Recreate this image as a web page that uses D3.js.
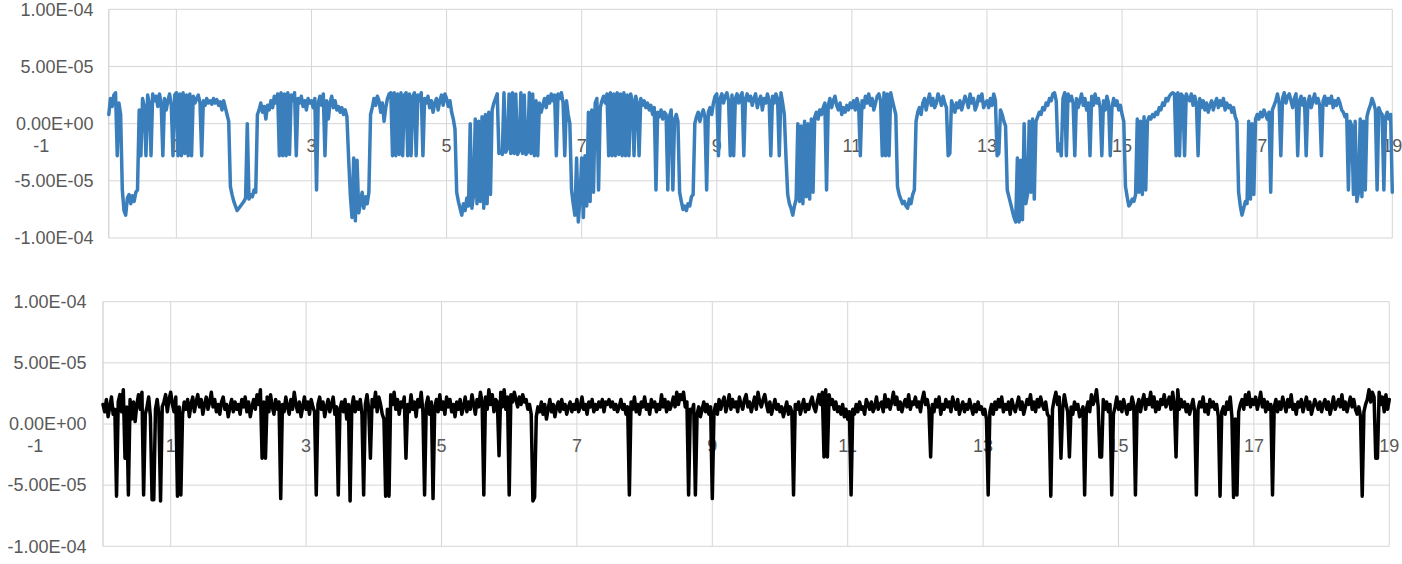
<!DOCTYPE html>
<html><head><meta charset="utf-8">
<script src="https://cdn.jsdelivr.net/npm/d3@7"></script>
<style>
body{margin:0;background:#fff}
svg{display:block}
text{font-family:"Liberation Sans",Arial,Helvetica,sans-serif}
</style>
</head><body>
<svg id="chart" width="1402" height="564"></svg>
<script>
// ---- data ----
const xStep = 0.025;            // sample spacing on the x axis
const xDomain = [0, 19];
const xTicks = [-1, 1, 3, 5, 7, 9, 11, 13, 15, 17, 19];
const xTickLabels = ["-1", "1", "3", "5", "7", "9", "11", "13", "15", "17", "19"];
const yTicks = [1e-4, 5e-5, 0, -5e-5, -1e-4];
const yTickLabels = ["1.00E-04", "5.00E-05", "0.00E+00", "-5.00E-05", "-1.00E-04"];
const valueUnit = 1e-6;         // values below are in units of 1e-6

const topValues = [
8,22,15,25,27,-28,18,8,-58,-76,-80,-65,-62,-70,-63,-68,-60,-58,12,-28,22,15,-28,25,18,-28,26,20,24,15,26,18,-28,22,12,20,26,16,-28,25,
27,-28,26,-28,27,-26,25,-28,26,-28,24,18,22,25,18,-28,20,16,22,18,20,17,22,18,21,16,19,12,20,14,8,2,-55,-62,-68,-72,-76,-74,-72,-70,
-68,-65,0,-66,-62,-64,-58,-60,8,12,18,10,15,4,16,12,20,14,24,18,26,-28,27,-28,26,-28,27,-27,25,20,27,-28,22,18,24,15,20,12,22,18,
20,14,22,-58,18,24,16,26,-28,20,4,18,24,14,20,12,15,10,14,8,12,6,-30,-62,-82,-30,-85,-32,-78,-70,-60,-74,-64,-70,-60,8,14,22,16,24,
20,10,18,2,14,22,26,27,-28,27,-28,26,-27,27,-28,25,27,-28,26,-28,24,27,-28,25,20,27,-28,22,18,24,14,20,10,18,22,12,20,25,16,26,
22,15,20,10,4,-5,-60,-68,-74,-80,-70,-76,-65,-72,0,-74,-62,4,-70,2,-68,6,-74,8,-70,10,-62,12,18,22,26,-26,-24,-27,27,-25,-22,26,-26,27,
-26,26,-27,-24,27,-26,25,-27,-25,27,-26,26,-28,20,-28,18,10,16,22,14,24,18,26,20,25,-28,26,22,27,18,-28,20,8,0,-58,-70,-80,-30,-86,-65,
-30,-82,-28,-72,10,-68,12,-60,18,22,-58,14,20,24,18,26,-28,27,-28,26,-28,27,-27,26,-28,27,-28,25,-28,26,20,-28,24,18,-28,22,16,20,14,18,
12,16,8,14,-58,10,6,12,4,10,8,-58,6,12,-58,4,8,2,-60,-68,-75,-72,-76,-70,-72,-64,-62,0,6,10,2,8,12,6,-58,10,14,8,18,24,
26,-28,22,26,18,24,27,20,-28,25,-28,22,26,18,24,27,-28,22,26,20,24,16,22,26,14,20,24,12,22,18,26,20,-28,24,18,26,22,-28,27,18,
8,-30,-62,-70,-74,-80,-72,-66,0,-68,-2,-70,2,-64,0,-66,4,-60,6,10,4,12,8,14,18,-58,16,22,14,20,24,16,12,18,8,14,10,16,12,18,
14,20,12,22,16,-28,20,14,24,18,26,16,22,12,18,24,26,20,-28,27,-28,26,-28,27,20,14,8,-55,-62,-66,-70,-68,-72,-74,-66,-70,-62,-58,2,10,
14,8,18,22,12,20,26,16,22,14,18,26,22,16,24,18,14,-28,-26,20,16,10,18,14,20,12,18,24,20,14,26,18,22,12,16,24,20,26,14,18,
20,14,22,16,26,20,-28,-26,12,8,2,-2,-58,-64,-70,-76,-82,-86,-30,-86,-32,-84,0,-70,-62,2,-60,4,-66,2,6,10,8,14,12,18,16,22,20,26,
27,20,-24,-18,-28,22,27,-28,26,20,24,18,-28,22,14,20,26,16,22,12,18,-28,24,16,26,18,22,14,-28,20,12,24,18,-28,14,22,16,20,12,16,
8,2,-55,-64,-72,-70,-66,-68,-62,4,-60,2,-62,6,-58,2,6,4,8,6,10,8,14,12,18,16,22,20,24,26,27,26,-28,27,-28,26,24,-28,26,22,
20,26,16,24,18,-28,22,14,20,12,18,10,16,20,12,18,22,14,20,16,22,12,18,14,16,10,14,6,2,-60,-72,-80,-74,-68,-70,2,-66,0,-62,4,
8,4,10,6,12,8,4,10,-60,12,16,20,26,18,-28,22,27,18,24,26,20,14,22,26,-28,20,24,16,22,-28,18,24,14,20,26,18,22,16,-28,20,
24,16,22,18,24,14,20,16,22,18,12,10,6,8,-58,2,-2,-62,2,-68,-60,4,-64,2,-58,6,12,16,22,18,12,-58,14,10,8,-58,6,10,4,8,
-60
];

const bottomValues = [
16,10,20,6,14,22,8,12,-59,18,24,10,28,-28,14,-58,20,4,18,2,16,24,12,26,-58,8,14,22,6,-62,-62,12,20,8,-63,14,18,24,10,20,
26,16,10,22,-59,14,-58,8,18,12,20,6,16,22,10,18,24,14,20,8,16,22,12,18,26,14,20,10,16,8,18,22,12,16,6,14,20,10,18,12,
16,8,20,14,22,10,18,6,14,20,12,24,16,28,-28,18,-28,22,10,24,14,8,20,12,18,-61,16,10,22,14,8,20,12,26,16,10,18,6,14,22,
12,18,8,20,14,10,-58,16,22,12,18,6,14,20,10,16,22,8,14,-58,12,18,10,20,4,16,-63,14,22,10,18,12,20,8,-58,16,24,12,-28,20,
14,26,10,22,16,8,4,-59,12,-59,24,16,26,12,20,8,18,14,22,-28,16,10,24,12,18,6,20,14,26,10,-58,16,22,8,18,-61,14,20,10,24,
12,18,8,22,14,20,10,16,6,18,12,20,8,14,22,10,18,12,24,16,8,20,14,26,18,-58,22,12,28,16,24,10,20,18,-26,26,14,28,12,22,
-58,24,18,26,20,14,22,16,24,18,20,12,16,8,-63,-60,6,14,10,18,8,16,4,12,20,10,16,6,14,18,10,20,12,16,8,14,18,10,16,12,
20,10,14,22,12,16,8,18,14,20,10,16,12,18,14,20,10,18,16,20,14,18,12,16,10,14,20,12,16,8,14,-58,18,12,22,10,16,8,18,14,
22,12,16,8,20,14,18,10,16,12,24,14,20,10,18,12,16,22,14,26,16,24,20,26,14,18,-58,12,10,16,-58,8,14,6,12,18,10,16,8,14,
-61,10,16,8,20,12,18,22,10,16,24,12,20,14,18,10,22,16,12,20,24,14,18,10,16,22,12,26,18,14,20,24,16,10,18,8,14,20,12,16,
10,14,6,12,18,8,14,10,-58,16,12,18,8,14,20,10,16,12,18,22,14,10,18,24,16,26,-27,28,-27,24,16,20,12,18,10,14,8,16,6,12,
4,10,-58,12,8,16,10,18,12,14,8,20,16,12,18,10,14,22,12,16,18,10,24,14,20,12,18,26,16,22,12,18,10,16,20,14,24,12,18,16,
22,14,18,10,20,26,16,20,12,-27,16,10,20,14,22,8,16,12,20,14,18,10,22,16,12,20,8,14,18,10,16,12,20,14,8,16,10,18,12,14,
8,12,4,-58,10,16,8,18,12,20,14,22,10,16,12,18,8,20,14,10,16,22,12,18,8,14,20,16,24,12,18,10,20,14,22,16,12,18,8,6,
-59,12,20,26,16,22,-28,12,24,16,10,-27,14,8,18,12,16,6,10,14,-58,12,18,10,24,16,20,28,14,-27,-27,20,12,18,10,16,-58,8,14,22,
12,18,10,20,14,8,16,12,22,16,-58,14,20,10,18,24,12,20,16,26,14,22,10,18,12,20,16,24,14,18,22,12,26,16,-27,28,12,20,14,18,
10,16,8,14,20,10,-58,12,18,14,22,10,16,8,20,14,18,12,16,6,-59,10,14,8,18,12,22,6,-60,4,-58,10,16,20,12,24,16,26,14,20,
16,22,12,18,26,14,20,10,18,12,16,-58,14,20,10,18,12,22,16,10,20,14,24,12,16,8,18,14,20,10,16,22,12,18,8,14,20,16,12,18,
10,16,20,12,18,8,14,22,12,16,20,14,24,12,18,10,16,22,14,20,12,8,14,6,-59,10,16,20,28,18,26,22,-28,-28,26,16,22,10,24,12,
20
];

// ---- drawing ----
const svg = d3.select("#chart");
const gridColor = "#d6d6d6";
const textColor = "#595959";

const panels = [
  {values: topValues, color: "#3a7fbb", x0: 108.8, x1: 1392.3, yTop: 9.3, yBot: 238, labelRight: 93.5},
  {values: bottomValues, color: "#000000", x0: 103, x1: 1389.3, yTop: 301.7, yBot: 546.3, labelRight: 86.5}
];

panels.forEach(p => {
  const x = d3.scaleLinear().domain(xDomain).range([p.x0, p.x1]);
  const y = d3.scaleLinear().domain([-1e-4, 1e-4]).range([p.yBot, p.yTop]);
  const g = svg.append("g");

  // horizontal grid
  g.selectAll("line.h").data(yTicks).join("line")
    .attr("x1", x(xDomain[0])).attr("x2", x(xDomain[1]))
    .attr("y1", d => y(d)).attr("y2", d => y(d))
    .attr("stroke", gridColor).attr("stroke-width", 1);

  // vertical grid (odd ticks inside the domain) + left border
  const vLines = [xDomain[0]].concat(xTicks.filter(t => t > xDomain[0] && t <= xDomain[1]));
  g.selectAll("line.v").data(vLines).join("line")
    .attr("x1", d => x(d)).attr("x2", d => x(d))
    .attr("y1", y(1e-4)).attr("y2", y(-1e-4))
    .attr("stroke", (d, i) => i === 0 ? "#c4c4c4" : gridColor).attr("stroke-width", 1);

  // y tick labels
  g.selectAll("text.y").data(yTicks).join("text")
    .attr("x", p.labelRight).attr("y", d => y(d))
    .attr("dy", "0.35em").attr("text-anchor", "end")
    .attr("font-size", 18).attr("fill", textColor)
    .text((d, i) => yTickLabels[i]);

  // x tick labels, placed just under the zero line (drawn under the series)
  g.selectAll("text.x").data(xTicks).join("text")
    .attr("x", d => x(d)).attr("y", y(0) + 22)
    .attr("dy", "0.35em").attr("text-anchor", "middle")
    .attr("font-size", 18).attr("fill", textColor)
    .text((d, i) => xTickLabels[i]);

  // series line
  const line = d3.line()
    .x((d, i) => x(i * xStep))
    .y(d => y(d * valueUnit));
  g.append("path").datum(p.values)
    .attr("d", line).attr("fill", "none")
    .attr("stroke", p.color).attr("stroke-width", 3.5)
    .attr("stroke-linejoin", "round").attr("stroke-linecap", "round");
});
</script>
</body></html>
